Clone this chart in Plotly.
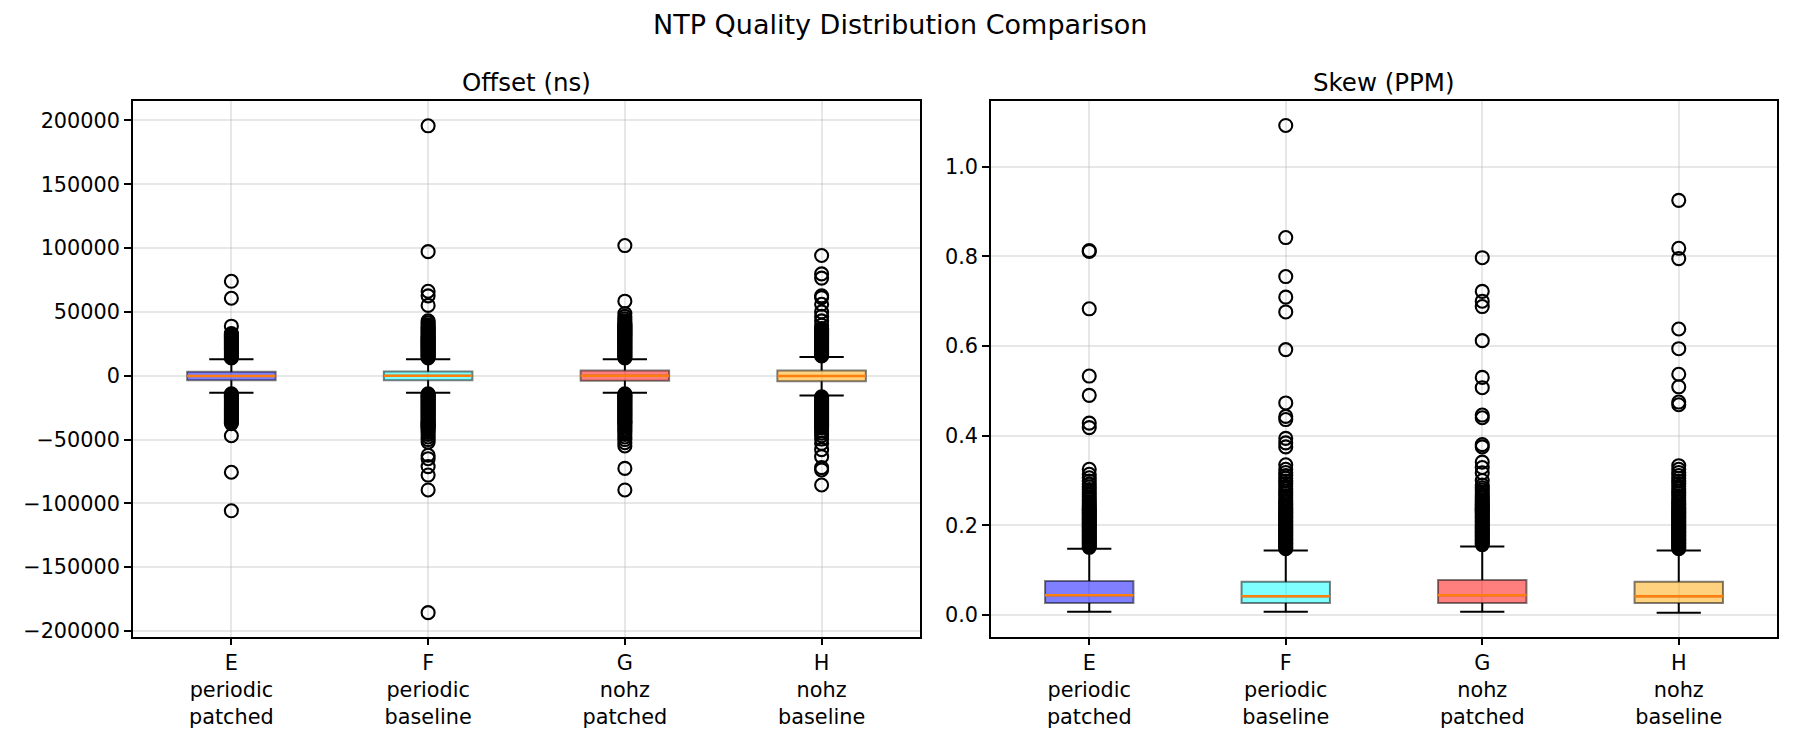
import plotly.graph_objects as go

# ---------------- data ----------------
categories = ["E<br>periodic<br>patched", "F<br>periodic<br>baseline",
              "G<br>nohz<br>patched", "H<br>nohz<br>baseline"]
positions = [1, 2, 3, 4]

# Offset (ns) box statistics
off_q1 = [-3600, -3600, -3900, -4400]
off_med = [-300, 0, 0, -300]
off_q3 = [3050, 3300, 4150, 4150]
off_lo = [-13300, -13300, -13300, -15500]
off_hi = [13000, 13000, 13000, 14700]

off_out_E = [74000, 60700, 38800,
             33000, 32200, 31400, 30600, 29800, 29000, 28200, 27400, 26600, 25800, 25000,
             24200, 23400, 22600, 21800, 21000, 20200, 19400, 18600, 17800, 17000, 16200,
             15400, 14600, 13900,
             -14200, -15000, -15800, -16600, -17400, -18200, -19000, -19800, -20600, -21400,
             -22200, -23000, -23800, -24600, -25400, -26200, -27000, -27800, -28600, -29400,
             -30200, -31000, -31800, -32600, -33400, -34200, -35000, -35800, -36600, -37500,
             -47000, -75600, -105800]
off_out_F = [195800, 97200, 66200, 62600, 55100, 43000, 41500, 40000,
             38800, 38000, 37200, 36400, 35600, 34800, 34000, 33200, 32400, 31600, 30800,
             30000, 29200, 28400, 27600, 26800, 26000, 25200, 24400, 23600, 22800, 22000,
             21200, 20400, 19600, 18800, 18000, 17200, 16400, 15600, 14800, 14000,
             -14200, -15000, -15800, -16600, -17400, -18200, -19000, -19800, -20600, -21400,
             -22200, -23000, -23800, -24600, -25400, -26200, -27000, -27800, -28600, -29400,
             -30200, -31000, -31800, -32600, -33400, -34200, -35000, -35800, -36600, -37400,
             -38200, -39000, -39800, -40600, -41500, -43000, -44500, -46000, -48000, -50000,
             -52000, -62300, -65000, -71200, -77800, -89500, -185600]
off_out_G = [102000, 58400, 48700, 46500, 44600, 43000,
             41800, 41000, 40200, 39400, 38600, 37800, 37000, 36200, 35400, 34600, 33800,
             33000, 32200, 31400, 30600, 29800, 29000, 28200, 27400, 26600, 25800, 25000,
             24200, 23400, 22600, 21800, 21000, 20200, 19400, 18600, 17800, 17000, 16200,
             15400, 14600, 13900,
             -14200, -15000, -15800, -16600, -17400, -18200, -19000, -19800, -20600, -21400,
             -22200, -23000, -23800, -24600, -25400, -26200, -27000, -27800, -28600, -29400,
             -30200, -31000, -31800, -32600, -33400, -34200, -35000, -35800, -36600, -37400,
             -38500, -40000, -41500, -43000, -44500, -46000, -48000, -50000, -52500, -55000,
             -72600, -89500]
off_out_H = [94200, 79800, 76500, 62600, 61200, 56000, 50000, 46500, 43000, 39600,
             37000, 36200, 35400, 34600, 33800, 33000, 32200, 31400, 30600, 29800, 29000,
             28200, 27400, 26600, 25800, 25000, 24200, 23400, 22600, 21800, 21000, 20200,
             19400, 18600, 17800, 17000, 16200, 15500,
             -16600, -17400, -18200, -19000, -19800, -20600, -21400, -22200, -23000, -23800,
             -24600, -25400, -26200, -27000, -27800, -28600, -29400, -30200, -31000, -31800,
             -32600, -33400, -34200, -35000, -35800, -36600, -37400, -38200, -39000, -40000,
             -41000, -43000, -45000, -47000, -49600, -53000, -57900, -63400, -72000, -73800,
             -85600]
off_outliers = [off_out_E, off_out_F, off_out_G, off_out_H]

# Skew (PPM) box statistics
skew_q1 = [0.0268, 0.027, 0.027, 0.027]
skew_med = [0.0442, 0.042, 0.044, 0.042]
skew_q3 = [0.0758, 0.074, 0.078, 0.074]
skew_lo = [0.007, 0.007, 0.007, 0.005]
skew_hi = [0.148, 0.1437, 0.153, 0.1437]

skew_out_E = [0.813, 0.811, 0.683, 0.533, 0.490, 0.428, 0.418, 0.325, 0.314, 0.306,
              0.299, 0.292, 0.286, 0.280, 0.274, 0.268, 0.263, 0.258, 0.253, 0.249, 0.245,
              0.241, 0.237, 0.234, 0.231, 0.228, 0.225, 0.222, 0.219, 0.216, 0.213, 0.210,
              0.207, 0.204, 0.201, 0.198, 0.195, 0.192, 0.189, 0.186, 0.183, 0.180, 0.177,
              0.174, 0.171, 0.168, 0.165, 0.162, 0.159, 0.156, 0.153, 0.151]
skew_out_F = [1.092, 0.842, 0.755, 0.709, 0.676, 0.592, 0.473, 0.443, 0.436, 0.394, 0.384,
              0.375, 0.335, 0.325, 0.318, 0.311, 0.305, 0.299, 0.293, 0.287, 0.281, 0.276,
              0.271, 0.266, 0.261, 0.256, 0.252, 0.248, 0.244, 0.240, 0.236, 0.232, 0.229,
              0.226, 0.223, 0.220, 0.217, 0.214, 0.211, 0.208, 0.205, 0.202, 0.199, 0.196,
              0.193, 0.190, 0.187, 0.184, 0.181, 0.178, 0.175, 0.172, 0.169, 0.166, 0.163,
              0.160, 0.157, 0.154, 0.151, 0.148]
skew_out_G = [0.797, 0.722, 0.700, 0.688, 0.612, 0.530, 0.507, 0.446, 0.440, 0.380, 0.375,
              0.341, 0.329, 0.317, 0.300, 0.290, 0.284, 0.279, 0.274, 0.269, 0.265, 0.261,
              0.257, 0.253, 0.250, 0.247, 0.244, 0.241, 0.238, 0.235, 0.232, 0.229, 0.226,
              0.223, 0.220, 0.217, 0.214, 0.211, 0.208, 0.205, 0.202, 0.199, 0.196, 0.193,
              0.190, 0.187, 0.184, 0.181, 0.178, 0.175, 0.172, 0.169, 0.166, 0.163, 0.160,
              0.157]
skew_out_H = [0.925, 0.818, 0.795, 0.638, 0.594, 0.537, 0.509, 0.475, 0.469, 0.333, 0.325,
              0.318, 0.311, 0.305, 0.299, 0.293, 0.287, 0.281, 0.276, 0.271, 0.266, 0.261,
              0.256, 0.252, 0.248, 0.244, 0.240, 0.236, 0.232, 0.229, 0.226, 0.223, 0.220,
              0.217, 0.214, 0.211, 0.208, 0.205, 0.202, 0.199, 0.196, 0.193, 0.190, 0.187,
              0.184, 0.181, 0.178, 0.175, 0.172, 0.169, 0.166, 0.163, 0.160, 0.157, 0.154,
              0.151, 0.148]
skew_outliers = [skew_out_E, skew_out_F, skew_out_G, skew_out_H]

off_tickvals = [-200000, -150000, -100000, -50000, 0, 50000, 100000, 150000, 200000]
off_ticktext = ["\u2212200000", "\u2212150000", "\u2212100000", "\u221250000", "0",
                "50000", "100000", "150000", "200000"]
skew_tickvals = [0.0, 0.2, 0.4, 0.6, 0.8, 1.0]
skew_ticktext = ["0.0", "0.2", "0.4", "0.6", "0.8", "1.0"]

fills = ["rgba(0,0,255,0.5)", "rgba(0,255,255,0.5)", "rgba(255,0,0,0.5)", "rgba(255,165,0,0.5)"]

# ---------------- figure ----------------
FONT = "DejaVu Sans"
BOXW = 0.45
CAPW = BOXW / 2

fig = go.Figure()


def add_panel(xa, ya, q1, med, q3, lo, hi, outs):
    for i, p in enumerate(positions):
        # whiskers
        fig.add_trace(go.Scatter(
            x=[p, p, None, p, p], y=[q1[i], lo[i], None, q3[i], hi[i]],
            mode="lines", line=dict(color="black", width=2),
            xaxis=xa, yaxis=ya, showlegend=False, hoverinfo="skip"))
        # caps
        fig.add_trace(go.Scatter(
            x=[p - CAPW / 2, p + CAPW / 2, None, p - CAPW / 2, p + CAPW / 2],
            y=[lo[i], lo[i], None, hi[i], hi[i]],
            mode="lines", line=dict(color="black", width=2),
            xaxis=xa, yaxis=ya, showlegend=False, hoverinfo="skip"))
        # box
        fig.add_trace(go.Box(
            x=[p], q1=[q1[i]], median=[med[i]], q3=[q3[i]],
            lowerfence=[q1[i]], upperfence=[q3[i]],
            width=BOXW, whiskerwidth=0, boxpoints=False,
            fillcolor=fills[i], line=dict(color="rgba(0,0,0,0.5)", width=2),
            xaxis=xa, yaxis=ya, showlegend=False, hoverinfo="skip"))
        # median
        fig.add_trace(go.Scatter(
            x=[p - BOXW / 2, p + BOXW / 2], y=[med[i], med[i]],
            mode="lines", line=dict(color="#ff7f0e", width=2.5),
            xaxis=xa, yaxis=ya, showlegend=False, hoverinfo="skip"))
        # fliers
        fig.add_trace(go.Scatter(
            x=[p] * len(outs[i]), y=outs[i], mode="markers",
            marker=dict(symbol="circle-open", size=13, color="black",
                        line=dict(width=2.1, color="black")),
            xaxis=xa, yaxis=ya, showlegend=False, hoverinfo="skip"))


add_panel("x", "y", off_q1, off_med, off_q3, off_lo, off_hi, off_outliers)
add_panel("x2", "y2", skew_q1, skew_med, skew_q3, skew_lo, skew_hi, skew_outliers)

W, H = 1800, 750
L1, R1 = 133, 920
L2, R2 = 991, 1777
T, B = 101.5, 642.5

common_x = dict(range=[0.5, 4.5], tickvals=positions, ticktext=categories,
                showgrid=True, gridcolor="rgba(176,176,176,0.3)", gridwidth=1.6,
                showline=True, mirror=True, linecolor="black", linewidth=1.6,
                ticks="outside", ticklen=7, tickwidth=1.6, tickcolor="black",
                zeroline=False, tickfont=dict(family=FONT, size=20.8, color="black"))
common_y = dict(showgrid=True, gridcolor="rgba(176,176,176,0.3)", gridwidth=1.6,
                showline=True, mirror=True, linecolor="black", linewidth=1.6,
                ticks="outside", ticklen=7, tickwidth=1.6, tickcolor="black",
                zeroline=False, tickfont=dict(family=FONT, size=20.8, color="black"))

fig.update_layout(
    width=W, height=H, margin=dict(l=0, r=0, t=0, b=0),
    paper_bgcolor="white", plot_bgcolor="white",
    font=dict(family=FONT, color="black"),
    xaxis=dict(domain=[L1 / W, R1 / W], anchor="y", **common_x),
    xaxis2=dict(domain=[L2 / W, R2 / W], anchor="y2", **common_x),
    yaxis=dict(domain=[1 - B / H, 1 - T / H], anchor="x", range=[-204300, 215600],
               tickvals=off_tickvals, ticktext=off_ticktext, **common_y),
    yaxis2=dict(domain=[1 - B / H, 1 - T / H], anchor="x2", range=[-0.048, 1.1476],
                tickvals=skew_tickvals, ticktext=skew_ticktext, **common_y),
    annotations=[
        dict(text="NTP Quality Distribution Comparison", x=0.5, y=1 - 25 / H,
             xref="paper", yref="paper", showarrow=False, xanchor="center",
             yanchor="middle", font=dict(family=FONT, size=27, color="black")),
        dict(text="Offset (ns)", x=(L1 + R1) / 2 / W, y=1 - 83 / H,
             xref="paper", yref="paper", showarrow=False, xanchor="center",
             yanchor="middle", font=dict(family=FONT, size=24.5, color="black")),
        dict(text="Skew (PPM)", x=(L2 + R2) / 2 / W, y=1 - 83 / H,
             xref="paper", yref="paper", showarrow=False, xanchor="center",
             yanchor="middle", font=dict(family=FONT, size=24.5, color="black")),
    ],
)

fig.write_html("out.html")
